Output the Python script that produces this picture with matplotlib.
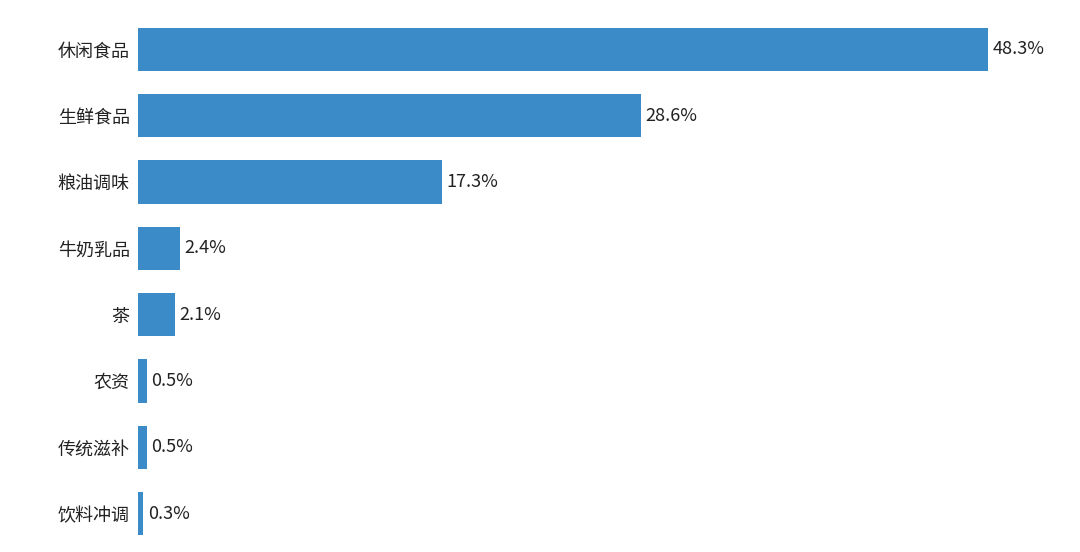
import matplotlib
matplotlib.use("Agg")
import matplotlib.pyplot as plt

plt.rcParams['font.family'] = ['Noto Sans CJK SC', 'DejaVu Sans']

categories = ["休闲食品", "生鲜食品", "粮油调味", "牛奶乳品", "茶", "农资", "传统滋补", "饮料冲调"]
values = [48.3, 28.6, 17.3, 2.4, 2.1, 0.5, 0.5, 0.3]
labels = ["48.3%", "28.6%", "17.3%", "2.4%", "2.1%", "0.5%", "0.5%", "0.3%"]

fig = plt.figure(figsize=(10.8, 5.52), dpi=100)
ax = fig.add_axes([138/1080, 5/552, 850/1080, 531/552])
y = list(range(len(categories)))
ax.barh(y, values, height=0.65, color="#3a8bc8")
ax.set_xlim(0, 48.3)
ax.set_ylim(7.5, -0.5)
ax.set_yticks(y)
ax.set_yticklabels(categories, fontsize=13, color="#222222")
ax.tick_params(axis='y', length=0, pad=6)
ax.set_xticks([])
for s in ax.spines.values():
    s.set_visible(False)
for yi, v, t in zip(y, values, labels):
    ax.text(v + 0.25, yi, t, va='center', ha='left', fontsize=13, color="#222222", clip_on=False)
fig.savefig("out.png", dpi=100)
